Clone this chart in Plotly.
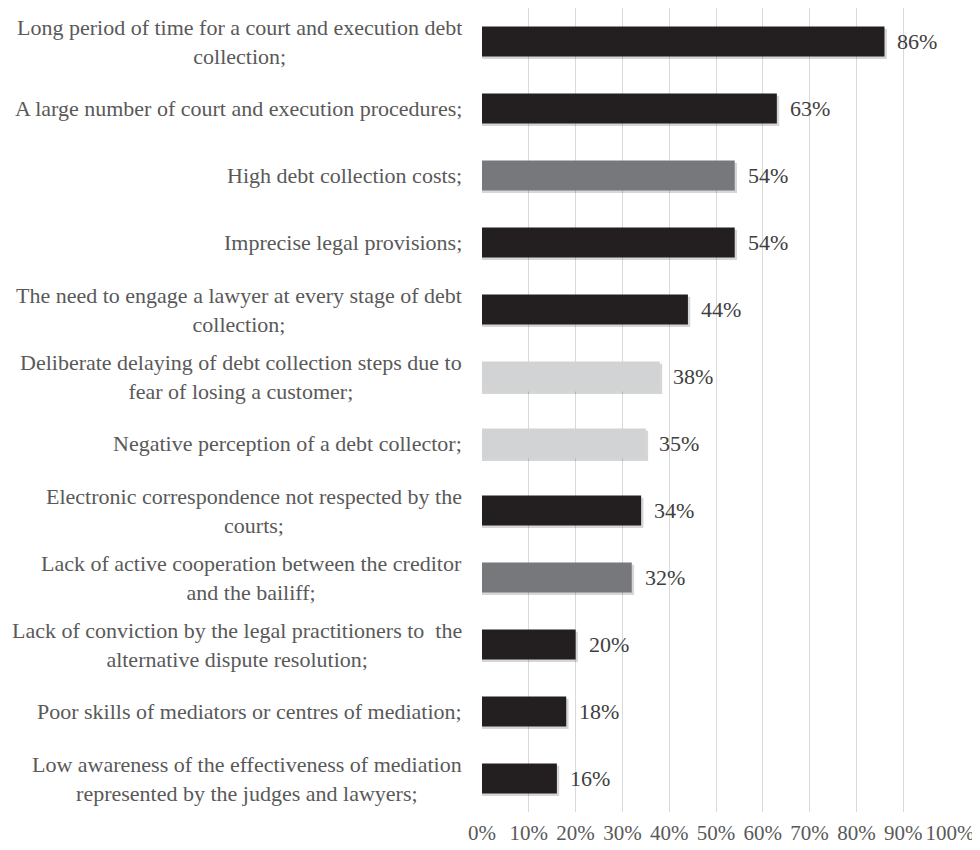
import plotly.graph_objects as go

categories = [
    "Long period of time for a court and execution debt<br>collection;",
    "A large number of court and execution procedures;",
    "High debt collection costs;",
    "Imprecise legal provisions;",
    "The need to engage a lawyer at every stage of debt<br>collection;",
    "Deliberate delaying of debt collection steps due to<br>fear of losing a customer;",
    "Negative perception of a debt collector;",
    "Electronic correspondence not respected by the<br>courts;",
    "Lack of active cooperation between the creditor<br>and the bailiff;",
    "Lack of conviction by the legal practitioners to  the<br>alternative dispute resolution;",
    "Poor skills of mediators or centres of mediation;",
    "Low awareness of the effectiveness of mediation<br>represented by the judges and lawyers;",
]
values = [86, 63, 54, 54, 44, 38, 35, 34, 32, 20, 18, 16]
shade = ["dark", "dark", "mid", "dark", "dark", "light", "light", "dark", "mid", "dark", "dark", "dark"]
palette = {"dark": "#231f20", "mid": "#77787b", "light": "#d1d3d4"}
tick_vals = list(range(0, 101, 10))
tick_text = [f"{v}%" for v in tick_vals]

ids = list(range(len(categories)))
colors = [palette[s] for s in shade]

fig = go.Figure()
# soft shadow
fig.add_trace(go.Bar(
    x=[v + 0.5 for v in values], y=ids, orientation="h", width=0.45, offset=-0.19,
    marker=dict(color="rgba(0,0,0,0.16)", line=dict(width=0)),
    hoverinfo="skip", showlegend=False,
))
fig.add_trace(go.Bar(
    x=values, y=ids, orientation="h", width=0.45,
    marker=dict(color=colors, line=dict(width=0)),
    showlegend=False,
))

anns = []
for i, (c, v) in enumerate(zip(categories, values)):
    anns.append(dict(x=v, y=i, xref="x", yref="y", text=f"{v}%", showarrow=False,
                     xanchor="left", xshift=11, font=dict(family="Liberation Serif", size=22, color="#404040")))
    anns.append(dict(x=0, y=i, xref="paper", yref="y", text=c, showarrow=False,
                     xanchor="right", xshift=-18, align="center",
                     font=dict(family="Liberation Serif", size=22, color="#595959")))

fig.update_layout(
    width=972, height=842,
    margin=dict(l=474, r=30, t=0, b=38, autoexpand=False),
    paper_bgcolor="white", plot_bgcolor="white",
    barmode="overlay",
    annotations=anns,
    xaxis=dict(range=[0, 100], tickvals=tick_vals, ticktext=tick_text, automargin=False,
               tickangle=0,
               showgrid=True, gridcolor="#d9d9d9", gridwidth=1, zeroline=False,
               showline=False, ticks="", ticklabelstandoff=6,
               tickfont=dict(family="Liberation Serif", size=21, color="#595959")),
    yaxis=dict(range=[len(categories) - 0.5, -0.5], showticklabels=False, showgrid=False,
               automargin=False, zeroline=False, showline=False, ticks=""),
)
fig.write_html("out.html")
